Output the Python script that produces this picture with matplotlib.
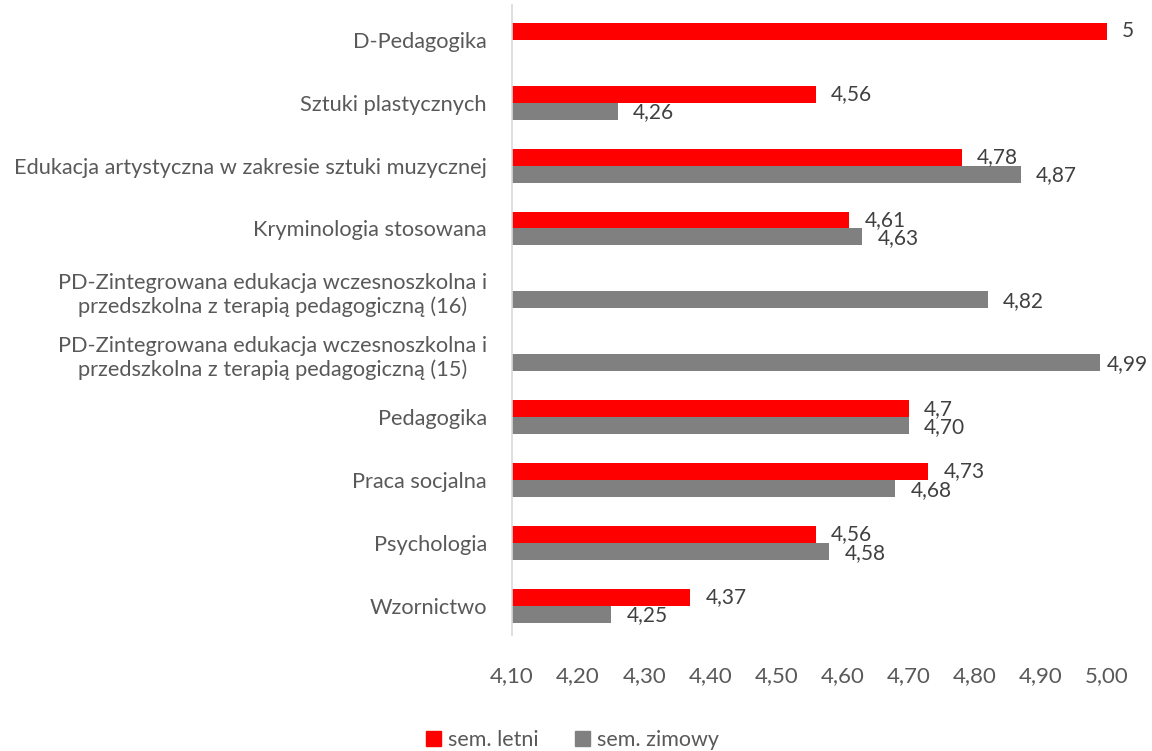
import matplotlib.pyplot as plt
from matplotlib.patches import Patch

plt.rcParams['font.family'] = ['Lato', 'DejaVu Sans']

# categories listed bottom to top
categories = [
    'Wzornictwo',
    'Psychologia',
    'Praca socjalna',
    'Pedagogika',
    'PD-Zintegrowana edukacja wczesnoszkolna i\nprzedszkolna z terapią pedagogiczną (15)',
    'PD-Zintegrowana edukacja wczesnoszkolna i\nprzedszkolna z terapią pedagogiczną (16)',
    'Kryminologia stosowana',
    'Edukacja artystyczna w zakresie sztuki muzycznej',
    'Sztuki plastycznych',
    'D-Pedagogika',
]
letni = [4.37, 4.56, 4.73, 4.7, None, None, 4.61, 4.78, 4.56, 5]
zimowy = [4.25, 4.58, 4.68, 4.70, 4.99, 4.82, 4.63, 4.87, 4.26, None]
x_ticks = [4.1, 4.2, 4.3, 4.4, 4.5, 4.6, 4.7, 4.8, 4.9, 5.0]

red = '#FF0000'
grey = '#808080'
txt = '#404040'
lbl = '#595959'

fig = plt.figure(figsize=(11.52, 7.51), dpi=100)
ax = fig.add_axes([0.4444, 0.154, 0.5165, 0.839])

h = 0.27
labels = []
for i in range(len(categories)):
    if letni[i] is not None:
        ax.barh(i + h / 2, letni[i], height=h, color=red)
        t = ax.text(letni[i] + 0.023, i + h / 2, f'{letni[i]:g}'.replace('.', ','),
                    va='center', ha='left', fontsize=15, color=txt)
        labels.append(t)
    if zimowy[i] is not None:
        ax.barh(i - h / 2, zimowy[i], height=h, color=grey)
        t = ax.text(zimowy[i] + 0.023, i - h / 2 - 0.02, f'{zimowy[i]:.2f}'.replace('.', ','),
                    va='center', ha='left', fontsize=15, color=txt)
        labels.append(t)

ax.set_xlim(4.1, 5.0)
ax.set_ylim(-0.47, 9.55)
ax.set_yticks(range(len(categories)))
ax.set_yticklabels(categories, multialignment='center')
ax.set_xticks(x_ticks)
ax.set_xticklabels([f'{t:.2f}'.replace('.', ',') for t in x_ticks])
ax.tick_params(axis='y', length=0, pad=18, labelsize=15.7, labelcolor=lbl)
ax.tick_params(axis='x', length=0, pad=22, labelsize=16, labelcolor=lbl)

for s in ['top', 'right', 'bottom']:
    ax.spines[s].set_visible(False)
ax.spines['left'].set_color('#D9D9D9')
ax.spines['left'].set_linewidth(1.2)

handles = [Patch(color=red, label='sem. letni'), Patch(color=grey, label='sem. zimowy')]
fig.legend(handles=handles, loc='center', bbox_to_anchor=(0.497, 0.0146), ncol=2,
           frameon=False, fontsize=15.5, handlelength=0.7, handleheight=0.7,
           handletextpad=0.3, columnspacing=1.7, labelcolor=lbl,
           borderpad=0, borderaxespad=0)

# pull data labels back inside the figure if they run past the right edge
fig.canvas.draw()
r = fig.canvas.get_renderer()
fig_w = fig.bbox.width
for t in labels:
    bb = t.get_window_extent(r)
    if bb.x1 > fig_w - 4:
        shift = bb.x1 - (fig_w - 4)
        x, y = t.get_position()
        x_disp = ax.transData.transform((x, y))[0] - shift
        t.set_x(ax.transData.inverted().transform((x_disp, 0))[0])

fig.savefig('out.png', dpi=100)
